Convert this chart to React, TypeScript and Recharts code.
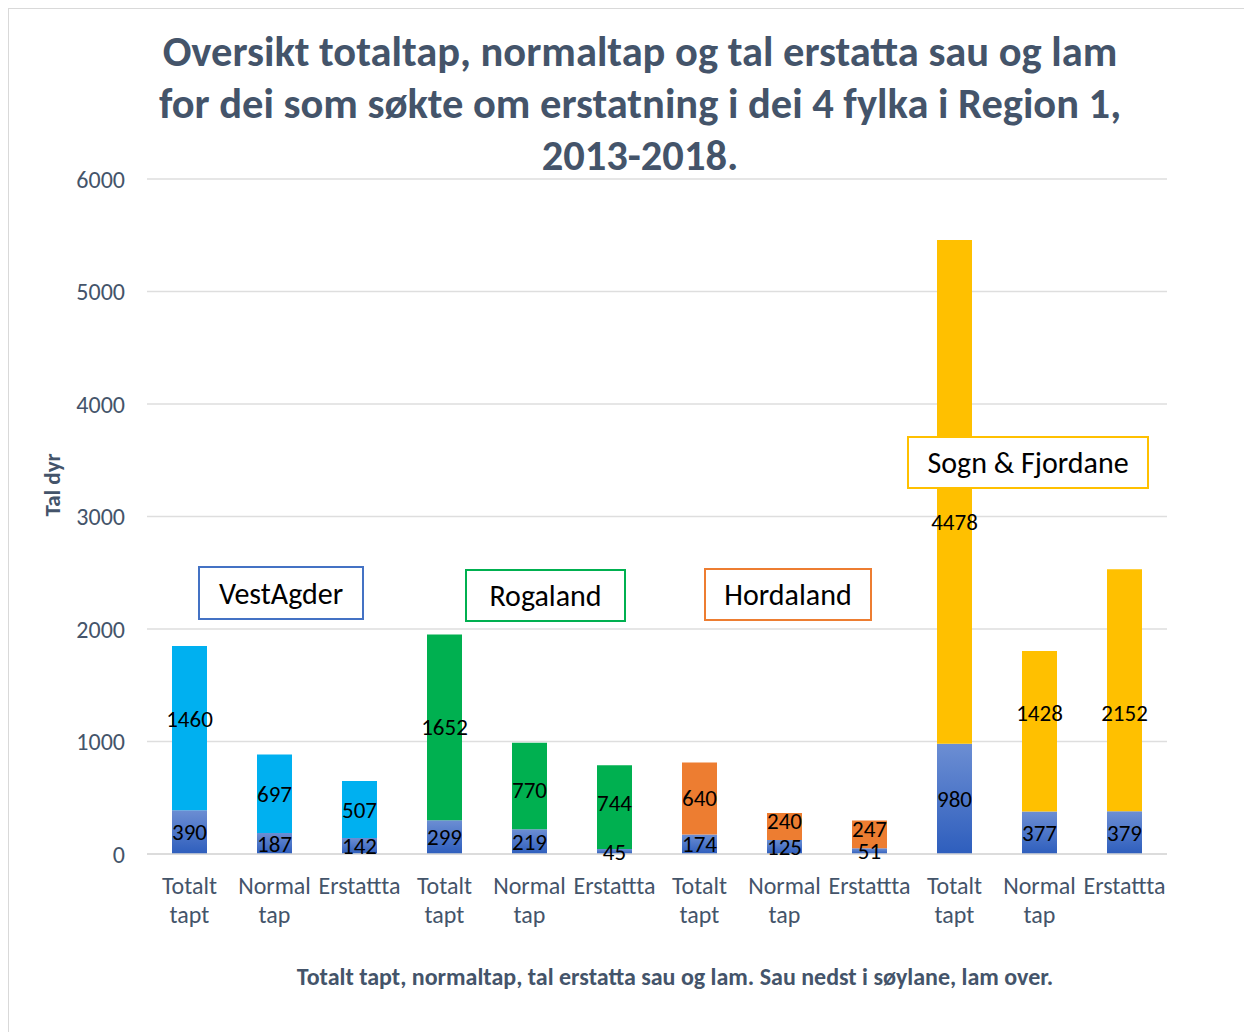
import React from "react";
import { BarChart, Bar, XAxis, YAxis, CartesianGrid, Cell, LabelList } from "recharts";

const categories = [
  "Totalt tapt", "Normal tap", "Erstattta",
  "Totalt tapt", "Normal tap", "Erstattta",
  "Totalt tapt", "Normal tap", "Erstattta",
  "Totalt tapt", "Normal tap", "Erstattta",
];
// sau nedst, lam over
const sau = [390, 187, 142, 299, 219, 45, 174, 125, 51, 980, 377, 379];
const lam = [1460, 697, 507, 1652, 770, 744, 640, 240, 247, 4478, 1428, 2152];
const regions = ["VestAgder", "Rogaland", "Hordaland", "Sogn & Fjordane"];
const lamColors = ["#00B0F0", "#00B050", "#ED7D31", "#FFC000"];
const boxColors = ["#4472C4", "#00B050", "#ED7D31", "#FFC000"];
const yTicks = [0, 1000, 2000, 3000, 4000, 5000, 6000];

const titleLines = [
  "Oversikt totaltap, normaltap og tal erstatta sau og lam",
  "for dei som søkte om erstatning i dei 4 fylka i Region 1,",
  "2013-2018.",
];

const data = categories.map((c, i) => ({
  key: "c" + i,
  label: c,
  sau: sau[i],
  lam: lam[i],
  region: Math.floor(i / 3),
}));

const FONT = "Carlito, Calibri, 'Open Sans', sans-serif";
const SLATE = "#44546A";

// small manual nudges of lam labels, like in the original sheet
const lamLabelNudge: Record<number, number> = { 0: -9, 4: 4, 5: -4, 7: -5, 8: -5, 9: 30, 10: -18, 11: 23 };

// eslint-disable-next-line @typescript-eslint/no-explicit-any
function XTick({ x, y, payload }: any) {
  const row = data.find((d) => d.key === payload.value);
  const lines = row ? row.label.split(" ") : [];
  return (
    <text x={x} y={y} textAnchor="middle" fill={SLATE} fontSize={24} fontFamily={FONT}>
      {lines.map((l, i) => (
        <tspan key={i} x={x} dy={i === 0 ? 38 : 29}>{l}</tspan>
      ))}
    </text>
  );
}

// eslint-disable-next-line @typescript-eslint/no-explicit-any
function LamLabel(props: any) {
  const { x, y, width, height, value, index } = props;
  const dy = lamLabelNudge[index] || 0;
  return (
    <text x={x + width / 2} y={y + height / 2 + dy} textAnchor="middle" dominantBaseline="central" fill="#000" fontSize={23} fontFamily={FONT}>
      {value}
    </text>
  );
}

// region boxes: [left, top, width, height]
const boxPos = [
  [198, 566, 166, 54],
  [465, 569, 161, 53],
  [704, 568, 168, 53],
  [907, 436, 242, 53],
];

export default function App() {
  return (
    <div style={{ position: "relative", width: 1244, height: 1032, background: "#fff", fontFamily: FONT, overflow: "hidden" }}>
      <style>{"body{margin:0}"}</style>
      <div style={{ position: "absolute", left: 8, top: 8, width: 1300, height: 1100, border: "1px solid #D9D9D9" }} />
      <BarChart
        width={1244}
        height={1032}
        data={data}
        margin={{ top: 179, right: 77, bottom: 148, left: 0 }}
        barSize={35}
        style={{ position: "absolute", left: 0, top: 0 }}
      >
        <defs>
          <linearGradient id="sauGrad" x1="0" y1="0" x2="0" y2="1">
            <stop offset="0%" stopColor="#6C8ED3" />
            <stop offset="100%" stopColor="#2E5EBD" />
          </linearGradient>
        </defs>
        <CartesianGrid vertical={false} stroke="#DEDEDE" strokeWidth={1.5} />
        <XAxis
          dataKey="key"
          height={30}
          interval={0}
          tickLine={false}
          axisLine={{ stroke: "#D9D9D9", strokeWidth: 1.5 }}
          tickSize={0}
          tick={<XTick />}
        />
        <YAxis
          width={147}
          domain={[0, 6000]}
          ticks={yTicks}
          axisLine={false}
          tickLine={false}
          tickSize={0}
          tickMargin={22}
          tick={{ fill: SLATE, fontSize: 24, fontFamily: FONT }}
          label={{ value: "Tal dyr", angle: -90, position: "insideLeft", offset: 52, fill: SLATE, fontSize: 23, fontWeight: 700, fontFamily: FONT }}
        />
        <Bar dataKey="sau" stackId="a" fill="url(#sauGrad)" isAnimationActive={false}>
          <LabelList dataKey="sau" position="center" fill="#000" fontSize={23} fontFamily={FONT} />
        </Bar>
        <Bar dataKey="lam" stackId="a" isAnimationActive={false}>
          {data.map((d) => <Cell key={d.key} fill={lamColors[d.region]} />)}
          <LabelList dataKey="lam" content={<LamLabel />} />
        </Bar>
      </BarChart>
      <div style={{ position: "absolute", left: 0, top: 26, width: 1280, textAlign: "center", color: SLATE, fontWeight: 700, fontSize: 42.5, lineHeight: "52px" }}>
        {titleLines.map((t, i) => <div key={i}>{t}</div>)}
      </div>
      {regions.map((r, i) => (
        <div
          key={r}
          style={{
            position: "absolute",
            left: boxPos[i][0],
            top: boxPos[i][1],
            width: boxPos[i][2],
            height: boxPos[i][3],
            boxSizing: "border-box",
            border: "2px solid " + boxColors[i],
            background: "#fff",
            display: "flex",
            alignItems: "center",
            justifyContent: "center",
            fontSize: 30,
            color: "#000",
          }}
        >
          {r}
        </div>
      ))}
      <div style={{ position: "absolute", left: 0, top: 962, width: 1350, textAlign: "center", color: SLATE, fontWeight: 700, fontSize: 24 }}>
        Totalt tapt, normaltap, tal erstatta sau og lam. Sau nedst i søylane, lam over.
      </div>
    </div>
  );
}
